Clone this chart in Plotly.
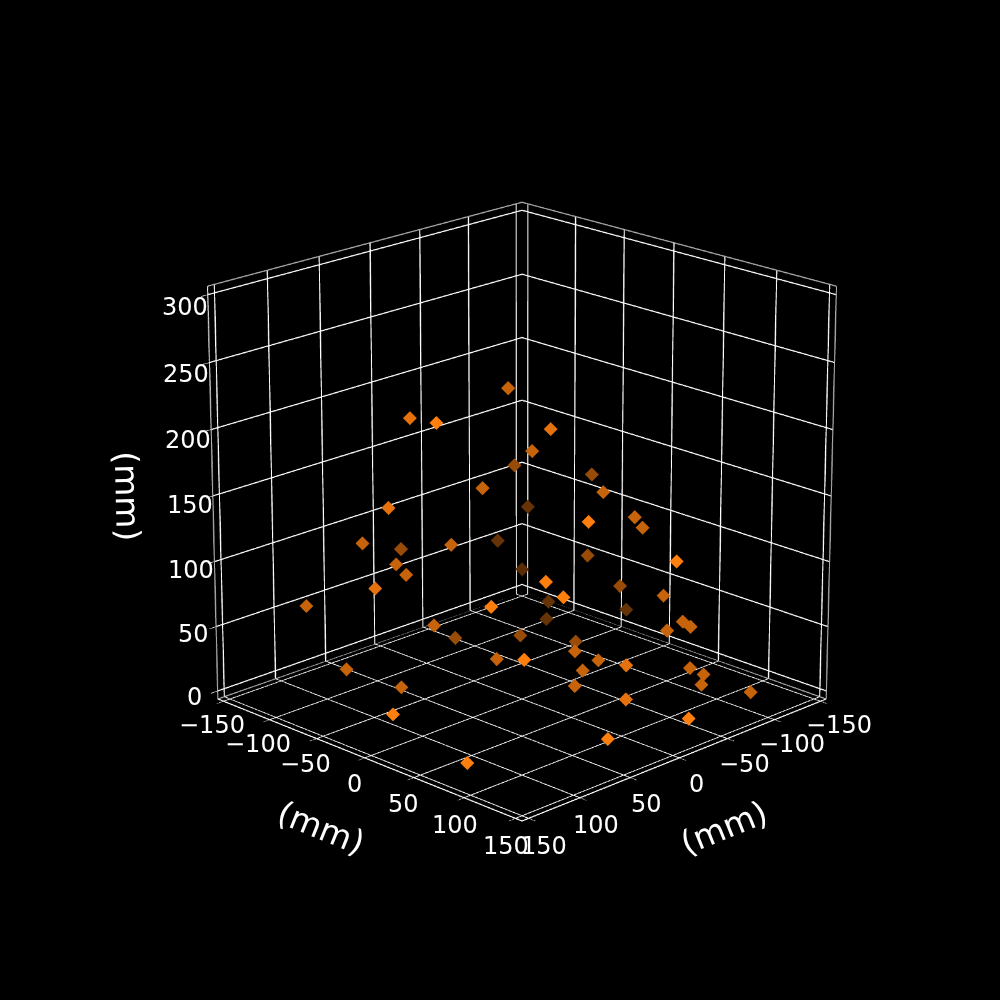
import plotly.graph_objects as go

x = [7,105,141,36,-5,-46,-86,20,-41,116,-103,-57,-61,68,36,81,13,-87,-84,-11,64,59,-125,123,88,-101,80,-72,-114,110,115,-130,-113,45,-82,-86,-74,-49,-15,-78,-27,13,-39,99,-2,-31,90,-86,-93,-92,62,-27,-112,-2,139,-18,58,127]
y = [-7,-5,59,64,5,-54,-14,-20,41,-16,-97,57,61,132,-36,-81,-113,-113,-16,141,-64,-59,-125,-23,111,1,120,72,-86,-110,85,-20,-87,-45,82,86,74,-51,-85,-22,27,-13,39,101,102,31,-90,86,93,92,-62,27,122,102,11,148,142,73]
z = [231,232,252,224,184,149,142,156,153,166,92,134,126,181,113,114,84,65,79,134,98,90,29,106,137,55,126,74,16,66,119,23,2,51,54,50,47,16,14,11,31,25,24,80,48,16,17,18,13,5,3,4,2,22,25,16,21,3]
alpha = [0.78,0.9,1,0.9,0.78,0.6,0.6,0.78,0.78,0.9,0.4,0.78,0.78,1,0.78,0.78,0.6,0.4,0.6,1,0.78,0.78,0.35,0.9,1,0.6,1,0.78,0.4,0.78,1,0.4,0.4,0.78,0.78,0.78,0.78,0.6,0.6,0.6,0.78,0.78,0.78,1,0.9,0.78,0.78,0.78,0.78,0.78,0.78,0.78,0.78,0.9,1,1,1,1]
ticks_xy = [-150,-100,-50,0,50,100,150]
ticks_z = [0,50,100,150,200,250,300]
axis_title = "(mm)"

P = 6.25
XR = [-150 - P, 150 + P]
ZR = [0 - P, 300 + P]

def shade(a):
    return f"rgb({round(255*a)},{round(127*a)},{round(14*a)})"

fig = go.Figure()
fig.add_trace(go.Scatter3d(x=x, y=y, z=z, mode="markers", showlegend=False,
    marker=dict(symbol="diamond", size=3.7, color=[shade(a) for a in alpha], line=dict(width=0))))
# grey pane edges
lo, hi = XR
b, t = ZR
fig.add_trace(go.Scatter3d(
    x=[hi, lo, lo, None, hi, lo, lo, None, lo, lo, None, hi, hi],
    y=[lo, lo, hi, None, lo, lo, hi, None, hi, hi, None, lo, lo],
    z=[t, t, t, None, b, b, b, None, b, t, None, b, t], mode="lines",
    line=dict(color="#a8a8a8", width=2), showlegend=False, hoverinfo="skip"))

def ax(r, vals):
    return dict(title=dict(text=""), tickvals=vals, range=r, showticklabels=False,
        showbackground=False, gridcolor="white", gridwidth=2,
        showline=True, linecolor="white", linewidth=2, zeroline=False, showspikes=False,
        ticks="outside", ticklen=6, tickcolor="white", tickwidth=1)

TF = dict(size=24, color="white", family="DejaVu Sans")
def lab(v):
    return str(v).replace("-", "\u2212")
ann = []
for v in ticks_xy:
    ann.append(dict(x=v, y=hi, z=b, text=lab(v), showarrow=False, font=TF, xshift=17 - v*0.01, yshift=-26 - v*0.0133))
    ann.append(dict(x=hi, y=v, z=b, text=lab(v), showarrow=False, font=TF, xshift=-10.5 + v*0.01, yshift=-26 - v*0.0133))
for v in ticks_z:
    ann.append(dict(x=hi, y=lo, z=v, text=lab(v), showarrow=False, font=TF, xshift=-23, yshift=-6 - v*0.02))
TT = dict(size=33, color="white", family="DejaVu Sans")
ann.append(dict(x=hi, y=0, z=b, text=axis_title, showarrow=False, font=TT, textangle=22, xshift=-44, yshift=-70))
ann.append(dict(x=0, y=hi, z=b, text=axis_title, showarrow=False, font=TT, textangle=-22, xshift=45, yshift=-70))
ann.append(dict(x=hi, y=lo, z=150, text=axis_title, showarrow=False, font=TT, textangle=88.5, xshift=-85, yshift=0))

r = 9.94
SIZE = 3600
fig.update_layout(width=SIZE, height=SIZE, paper_bgcolor="black", plot_bgcolor="black",
    margin=dict(l=0, r=0, t=0, b=0), showlegend=False,
    font=dict(family="DejaVu Sans", color="white"),
    scene=dict(bgcolor="black", domain=dict(x=[0, 1], y=[0, 1]),
        xaxis=ax(XR, ticks_xy), yaxis=ax(XR, ticks_xy), zaxis=ax(ZR, ticks_z),
        aspectmode="manual", aspectratio=dict(x=1, y=1, z=1.0), annotations=ann,
        camera=dict(eye=dict(x=r*0.6672, y=r*0.6672, z=r*0.3305), center=dict(x=0, y=0, z=0), up=dict(x=0, y=0, z=1),
                    projection=dict(type="perspective"))))
fig.write_html("out.html", config={"displayModeBar": False},
    post_script="document.documentElement.style.background='black';document.documentElement.style.overflow='hidden';document.body.style.overflow='hidden';document.body.style.background='black';document.body.style.margin='0';var d=document.getElementsByClassName('plotly-graph-div')[0];d.style.position='absolute';d.style.left='-1278px';d.style.top='-1304px';")
